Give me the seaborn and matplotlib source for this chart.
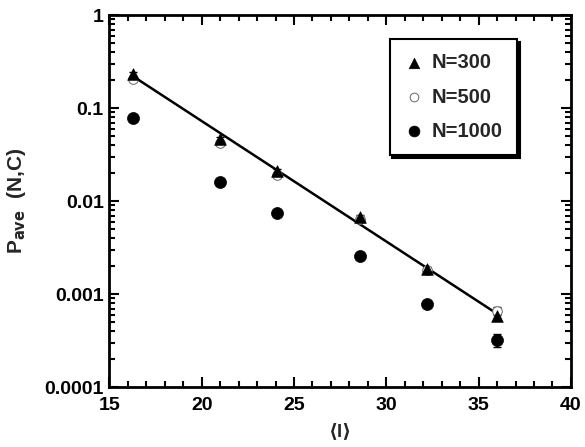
import numpy as np
import pandas as pd
import matplotlib
matplotlib.use("Agg")
import matplotlib.pyplot as plt
import matplotlib.ticker as mticker
import seaborn as sns

# ---- data ----
x_vals = [16.3, 21.0, 24.1, 28.6, 32.2, 36.0]
p_300 = [0.232, 0.0464, 0.021, 0.0068, 0.00186, 0.00058]
p_500 = [0.205, 0.042, 0.019, 0.0064, 0.0018, 0.00066]
p_1000 = [0.078, 0.016, 0.0074, 0.0026, 0.00078, 0.00032]
err_300 = [0.01, 0.002, 0.001, 0.0003, 0.0001, 0.00005]
err_500 = [0.01, 0.002, 0.001, 0.0003, 0.0001, 0.00006]
err_1000 = [0.003, 0.0008, 0.0003, 0.0001, 0.00004, 0.00005]
series_labels = ["N=300", "N=500", "N=1000"]
x_ticks = [15, 20, 25, 30, 35, 40]
y_ticks = [0.0001, 0.001, 0.01, 0.1, 1]
y_tick_labels = ["0.0001", "0.001", "0.01", "0.1", "1"]

sns.set_style("white")
plt.rcParams["font.family"] = ["Liberation Sans", "DejaVu Sans"]
plt.rcParams["font.weight"] = "bold"

fig = plt.figure(figsize=(5.85, 4.47), dpi=100)
ax = fig.add_axes([0.187, 0.134, 0.789, 0.832])

df = pd.DataFrame({
    "x": x_vals * 3,
    "p": p_300 + p_500 + p_1000,
    "series": sum([[s] * len(x_vals) for s in series_labels], []),
})

# error bars
ax.errorbar(x_vals, p_300, yerr=err_300, fmt="none", ecolor="black", elinewidth=1, capsize=3, zorder=2)
ax.errorbar(x_vals, p_500, yerr=err_500, fmt="none", ecolor="black", elinewidth=1, capsize=3, zorder=2)
ax.errorbar(x_vals, p_1000, yerr=err_1000, fmt="none", ecolor="black", elinewidth=1, capsize=3, zorder=2)

# exponential fit to N=300 data
coef = np.polyfit(x_vals, np.log10(p_300), 1)
fit_x = np.array([x_vals[0], x_vals[-1]])
fit_df = pd.DataFrame({"x": fit_x, "p": 10 ** np.polyval(coef, fit_x)})
sns.lineplot(data=fit_df, x="x", y="p", ax=ax, color="black", linewidth=1.8, zorder=3, legend=False)

sns.scatterplot(data=df[df.series == "N=300"], x="x", y="p", ax=ax, marker="^", s=70,
                color="black", edgecolor="black", linewidth=0.5, label="N=300", zorder=6)
sns.scatterplot(data=df[df.series == "N=500"], x="x", y="p", ax=ax, marker="o", s=48,
                facecolor="white", edgecolor="#666666", linewidth=0.7, label="N=500", zorder=5)
sns.scatterplot(data=df[df.series == "N=1000"], x="x", y="p", ax=ax, marker="o", s=75,
                color="black", edgecolor="black", linewidth=0.5, label="N=1000", zorder=4)

ax.set_yscale("log")
ax.set_xlim(15, 40)
ax.set_ylim(0.0001, 1)
ax.set_xticks(x_ticks)
ax.set_xticklabels([str(t) for t in x_ticks])
ax.xaxis.set_minor_locator(mticker.MultipleLocator(1))
ax.set_yticks(y_ticks)
ax.set_yticklabels(y_tick_labels)
ax.yaxis.set_minor_locator(mticker.LogLocator(base=10, subs=np.arange(2, 10), numticks=20))
ax.yaxis.set_minor_formatter(mticker.NullFormatter())

ax.tick_params(which="both", direction="in", top=True, right=True, bottom=True, left=True,
               colors="black", labelsize=14, width=1.5)
ax.tick_params(which="major", length=7)
ax.tick_params(axis="x", which="major", pad=7)
ax.tick_params(axis="y", which="major", pad=4)
ax.tick_params(which="minor", length=4)
for lab in ax.get_xticklabels() + ax.get_yticklabels():
    lab.set_fontweight("bold")

for sp in ax.spines.values():
    sp.set_visible(True)
    sp.set_color("black")
    sp.set_linewidth(2)

ax.set_xlabel("⟨l⟩", fontsize=14, fontweight="bold", labelpad=7)
ax.set_ylabel(r"P$_{\mathbf{ave}}$  (N,C)", fontsize=15, fontweight="bold", labelpad=12)

leg = ax.legend(loc="upper right", bbox_to_anchor=(0.883, 0.935), borderaxespad=0,
                frameon=True, fancybox=False, shadow={"color": "black", "alpha": 1},
                edgecolor="black", prop={"weight": "bold", "size": 14.5},
                handletextpad=0.4, handlelength=1.0, labelspacing=0.75, borderpad=0.7,
                markerscale=0.9)
leg.get_frame().set_linewidth(1.5)

fig.savefig("out.png", dpi=100)
